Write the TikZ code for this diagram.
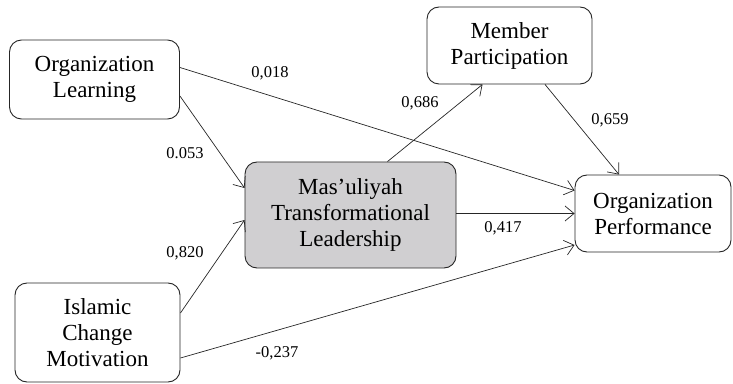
\documentclass[tikz,border=0pt]{standalone}
\usepackage{fontspec}
\setmainfont{Liberation Serif}
\usepackage{xcolor}
\usetikzlibrary{positioning,arrows.meta,calc}
\definecolor{boxgray}{RGB}{208,207,209}
\tikzset{
construct/.style={
draw=black!85,
line width=0.9pt,
rounded corners=12pt,
align=center,
fill=white,
inner sep=0pt,
font=\fontsize{23}{26}\selectfont
},
mediator/.style={
construct,
fill=boxgray
},
path/.style={
-{Straight Barb[length=9pt,width=15pt]},
line width=0.7pt,
draw=black!85
},
coef/.style={
font=\fontsize{16.5}{18}\selectfont,
inner sep=0pt
}
}
\begin{document}
\begin{tikzpicture}[x=1pt,y=1pt]
\useasboundingbox (0,0) rectangle (733,383);
\node[construct,minimum width=170pt,minimum height=79pt] (ol) at (94.5,303.5) {Organization\\Learning};
\node[construct,minimum width=165pt,minimum height=77pt] (mp) at (509.5,337.5) {Member\\Participation};
\node[mediator,minimum width=211pt,minimum height=106pt] (mtl) at (350.5,168) {Mas'uliyah\\Transformational\\Leadership};
\node[construct,minimum width=156pt,minimum height=77pt] (op) at (653,169.5) {Organization\\Performance};
\node[construct,minimum width=165pt,minimum height=99pt] (icm) at (97.5,50.5) {Islamic\\Change\\Motivation};

% paths
\draw[path] ([yshift=12pt]ol.east) -- ([yshift=23pt]op.west);
\draw[path] ([yshift=-16.5pt]ol.east) -- ([yshift=27pt]mtl.west);
\draw[path] ([yshift=19.5pt]icm.east) -- ([yshift=-5pt]mtl.west);
\draw[path] ([yshift=-25.5pt]icm.east) -- ([yshift=-31.5pt]op.west);
\draw[path] ([yshift=1.5pt]mtl.east) -- ([yshift=0pt]op.west);
\draw[path] ([xshift=37pt]mtl.north) -- ([xshift=-27pt]mp.south);
\draw[path] ([xshift=35.5pt]mp.south) -- ([xshift=-34pt]op.north);

% coefficients
\node[coef] (c1) at (270,310) {0,018};
\node[coef] (c2) at (185,230) {0.053};
\node[coef] (c3) at (420,280) {0,686};
\node[coef] (c4) at (610,263) {0,659};
\node[coef] (c5) at (185,130) {0,820};
\node[coef] (c6) at (277,30) {-0,237};
\node[coef] (c7) at (503,155) {0,417};
\end{tikzpicture}
\end{document}
